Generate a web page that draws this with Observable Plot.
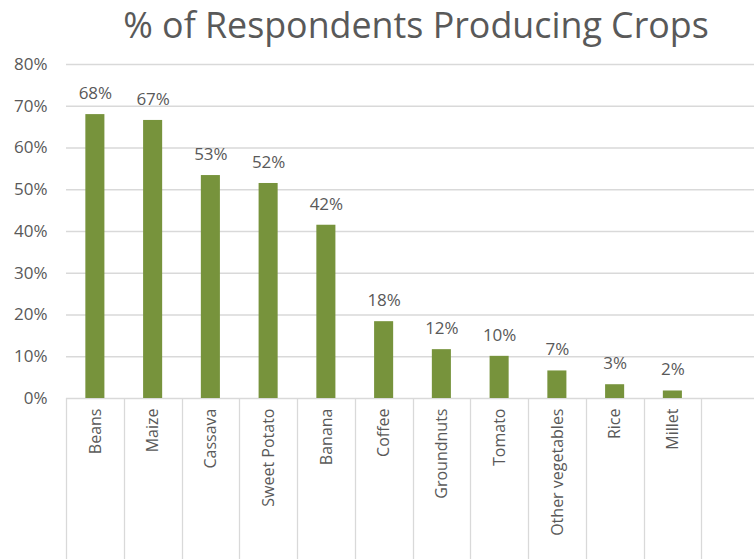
<!DOCTYPE html>
<html>
<head>
<meta charset="utf-8">
<script src="https://cdn.jsdelivr.net/npm/d3@7"></script>
<script src="https://cdn.jsdelivr.net/npm/@observablehq/plot@0.6"></script>
<style>
  html, body { margin: 0; padding: 0; background: #fff; overflow: hidden; }
  #title {
    width: 754px; height: 46px; line-height: normal;
    font-family: "Open Sans", sans-serif; font-size: 35.8px; color: #595959;
    text-align: center; padding-left: 78px; box-sizing: border-box; white-space: nowrap;
  }
</style>
</head>
<body>
<div id="title">% of Respondents Producing Crops</div>
<div id="chart"></div>
<script>
const categories = ["Beans", "Maize", "Cassava", "Sweet Potato", "Banana", "Coffee", "Groundnuts", "Tomato", "Other vegetables", "Rice", "Millet"];
const values = [68.0, 66.6, 53.4, 51.5, 41.5, 18.4, 11.7, 10.1, 6.6, 3.3, 1.8];
const yTicks = [0, 10, 20, 30, 40, 50, 60, 70, 80];

const data = categories.map((c, i) => ({crop: c, value: values[i]}));
const xDomain = [...categories, " "];
const padInner = 0.67;

const gray = "#d9d9d9";
const textColor = "#595959";

// category separators from the zero line down to the bottom of the svg
function separators(index, scales, values, dimensions) {
  const x = scales.x, y = scales.y;
  const step = x(xDomain[1]) - x(xDomain[0]);
  const g = d3.create("svg:g");
  const y0 = y(0);
  for (const d of xDomain) {
    const xs = Math.round(x(d) - step * padInner / 2) + 0.5;
    g.append("line").attr("x1", xs).attr("x2", xs).attr("y1", y0).attr("y2", dimensions.height)
      .attr("stroke", gray).attr("stroke-width", 1.3);
  }
  return g.node();
}

const chart = Plot.plot({
  width: 754,
  height: 513,
  marginTop: 18,
  marginBottom: 161,
  marginLeft: 66,
  marginRight: -5,
  style: {fontFamily: "Open Sans, sans-serif", fontSize: "17px", color: textColor, background: "#fff"},
  x: {domain: xDomain, paddingInner: padInner, paddingOuter: padInner / 2, round: false},
  y: {domain: [0, 80]},
  marks: [
    Plot.gridY(yTicks, {stroke: gray, strokeOpacity: 1, strokeWidth: 1.3}),
    separators,
    Plot.axisY(yTicks, {tickSize: 0, tickPadding: 19, tickFormat: d => d + "%", fontSize: 17, fill: textColor, label: null}),
    Plot.axisX({tickRotate: -90, tickSize: 0, tickPadding: 10, fontSize: 16, fill: textColor, label: null, tickFormat: d => d.trim()}),
    Plot.barY(data, {x: "crop", y: "value", fill: "#77933c"}),
    Plot.text(data, {x: "crop", y: "value", text: d => Math.round(d.value) + "%", dy: -21, lineAnchor: "middle", fontSize: 17, fill: textColor})
  ]
});
document.getElementById("chart").append(chart);
</script>
</body>
</html>
